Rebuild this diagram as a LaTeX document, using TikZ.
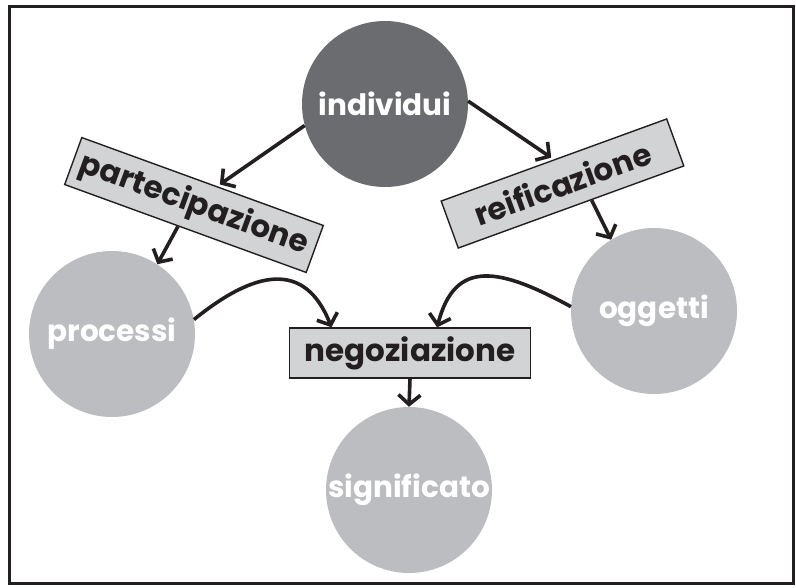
\documentclass[tikz,border=0pt]{standalone}
\usepackage{fontspec}
\setmainfont{Poppins}
\usetikzlibrary{arrows.meta,calc}
\definecolor{ink}{HTML}{231F20}
\definecolor{darkdisc}{HTML}{6B6C70}
\definecolor{lightdisc}{HTML}{BCBDC0}
\definecolor{boxfill}{HTML}{D1D3D4}
\begin{document}
\begin{tikzpicture}[x=1pt,y=-1pt,
  labelfont/.style={font=\fontsize{31}{31}\selectfont\bfseries},
  discfont/.style={font=\fontsize{29.5}{29.5}\selectfont\bfseries},
  disc/.style={circle, minimum size=166pt, inner sep=0pt, text=white, discfont},
  darkd/.style={disc, fill=darkdisc},
  lightd/.style={disc, fill=lightdisc},
  tag/.style={draw=ink, line width=1.4pt, fill=boxfill, text=ink, inner sep=0pt,
              minimum height=50pt, labelfont},
  link/.style={draw=ink, line width=3.6pt, -{Straight Barb[length=9.5pt,width=22pt]}},
]
\useasboundingbox (0,0) rectangle (796,587);
% outer frame
\draw[ink, line width=3pt] (9.5,6.5) rectangle (793,583.5);

% discs
\node[darkd]  (ind)  at (385,104) {individui};
\node[lightd] (proc) at (112,334) {processi};
\node[lightd] (ogg)  at (654,311) {oggetti};
\node[lightd] (sig)  at (409,490) {significato};

% labelled boxes
\node[tag, minimum width=257pt, rotate=-20] (part) at (194,205) {partecipazione};
\node[tag, minimum width=240pt, rotate=20]  (reif) at (562.5,183.5) {reificazione};
\node[tag, minimum width=241pt]             (neg)  at (410,353) {negoziazione};

% connectors
\draw[link, shorten >=3pt] (ind.195) -- ($(part.north)!0.12!(part.north east)$);
\draw[link, shorten >=3pt] (ind.2) -- (reif.north);
\draw[link] ($(part.south)!0.06!(part.south west)$) -- (proc.57);
\draw[link] ($(reif.south)!0.18!(reif.south east)$) -- (ogg.121);
\draw[link] (neg.south) -- (sig.north);
\draw[link] (proc.10) .. controls (255,270) and (305,260) ..
  ($(neg.north west)!0.176!(neg.north east)$);
\draw[link] (ogg.177) .. controls (500,268) and (455,258) ..
  ($(neg.north west)!0.612!(neg.north east)$);
\end{tikzpicture}
\end{document}
